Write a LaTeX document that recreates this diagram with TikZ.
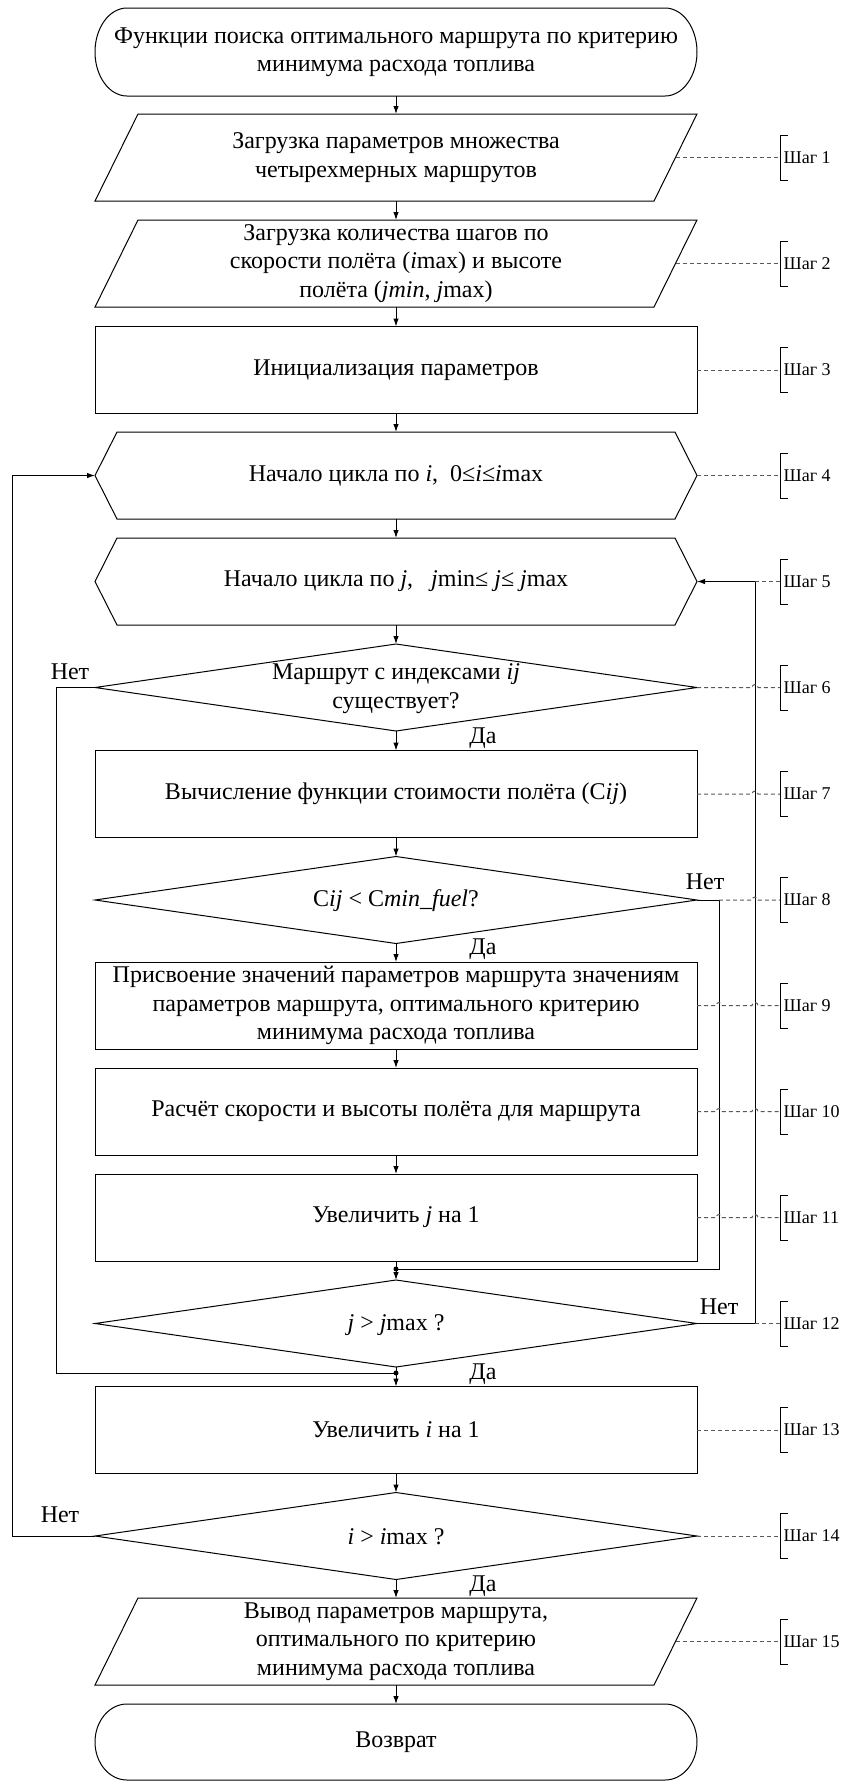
\documentclass[tikz,border=0pt]{standalone}
\usepackage{fontspec}
\setmainfont{Liberation Serif}
\usetikzlibrary{shapes.geometric,arrows.meta,calc}

\tikzset{
  ghost/.style={minimum width=602pt, minimum height=87pt, inner sep=0pt, outer sep=0pt},
  box/.style={ghost, draw, line width=1pt},
  dia/.style={diamond, draw, line width=1pt, minimum width=602pt, minimum height=87pt, inner sep=0pt, outer sep=0pt},
  outline/.style={draw, line width=1pt, line join=miter},
  txt/.style={align=center, font=\fontsize{24}{28.5}\selectfont, inner sep=0pt},
  flow/.style={-{Latex[length=8pt,width=5.5pt]}, line width=1pt},
  link/.style={line width=1pt},
  stepline/.style={draw=black!65, line width=1pt, dash pattern=on 4pt off 3pt},
  steplbl/.style={anchor=west, font=\fontsize{18}{20}\selectfont, inner sep=0pt},
  yesno/.style={font=\fontsize{24}{26}\selectfont, inner sep=0pt},
  junction/.style={circle, fill, inner sep=0pt, minimum size=5pt},
  pics/steptag/.style={code={
    \draw[line width=1pt] (8,22.5) -- (0,22.5) -- (0,-22.5) -- (8,-22.5);
    \node[steplbl] (-lbl) at (3.5,0) {#1};
  }},
}

\begin{document}
\begin{tikzpicture}[x=1pt,y=1pt]
\useasboundingbox (0,0) rectangle (847,-1789);

% guide columns for the loop lines and the step tags
\coordinate (lft)  at (12,0);
\coordinate (lft2) at (56,0);
\coordinate (rt1)  at (719,0);
\coordinate (rt2)  at (755,0);
\coordinate (brk)  at (780,0);

% ---- blocks ----
\node[ghost, txt, minimum height=88pt] (t1) at (396,-52)
  {Функции поиска оптимального маршрута по критерию\\минимума расхода топлива};
\draw[outline] ([xshift=32pt]t1.north west) -- ([xshift=-32pt]t1.north east)
  arc[start angle=90, end angle=-90, x radius=32, y radius=44]
  -- ([xshift=32pt]t1.south west)
  arc[start angle=270, end angle=90, x radius=32, y radius=44] -- cycle;

\node[ghost, txt] (p1) at (396,-157.5)
  {Загрузка параметров множества\\четырехмерных маршрутов};
\draw[outline] ([xshift=43pt]p1.north west) -- (p1.north east)
  -- ([xshift=-43pt]p1.south east) -- (p1.south west) -- cycle;

\node[ghost, txt] (p2) at (396,-263.5)
  {Загрузка количества шагов по\\скорости полёта (\textit{i}max) и высоте\\полёта (\textit{jmin}, \textit{j}max)};
\draw[outline] ([xshift=43pt]p2.north west) -- (p2.north east)
  -- ([xshift=-43pt]p2.south east) -- (p2.south west) -- cycle;

\node[box, txt] (r3) at (396,-370) {Инициализация параметров};

\node[ghost, txt] (h4) at (396,-475.5)
  {Начало цикла по \textit{i},\ \ 0≤\textit{i}≤\textit{i}max};
\draw[outline] (h4.west) -- ([xshift=22pt]h4.north west) -- ([xshift=-22pt]h4.north east)
  -- (h4.east) -- ([xshift=-22pt]h4.south east) -- ([xshift=22pt]h4.south west) -- cycle;

\node[ghost, txt] (h5) at (396,-581.5)
  {Начало цикла по \textit{j},\ \ \ \textit{j}min≤ \textit{j}≤ \textit{j}max};
\draw[outline] (h5.west) -- ([xshift=22pt]h5.north west) -- ([xshift=-22pt]h5.north east)
  -- (h5.east) -- ([xshift=-22pt]h5.south east) -- ([xshift=22pt]h5.south west) -- cycle;

\node[dia] (d6) at (396,-687.5) {};
\node[txt] (d6t) at (396,-688.5) {Маршрут с индексами \textit{ij}\\существует?};

\node[box, txt] (r7) at (396,-794) {Вычисление функции стоимости полёта (C\textit{ij})};

\node[dia] (d8) at (396,-900) {};
\node[txt] (d8t) at (396,-901) {C\textit{ij} < C\textit{min\_fuel}?};

\node[box, txt] (r9) at (396,-1005.5)
  {Присвоение значений параметров маршрута значениям\\параметров маршрута, оптимального критерию\\минимума расхода топлива};

\node[box, txt] (r10) at (396,-1111.5) {Расчёт скорости и высоты полёта для маршрута};

\node[box, txt] (r11) at (396,-1217.5) {Увеличить \textit{j} на 1};

\node[junction] (j1) at (396,-1269) {};

\node[dia] (d12) at (396,-1323.5) {};
\node[txt] (d12t) at (396,-1325) {\textit{j} > \textit{j}max ?};

\node[junction] (j2) at (396,-1373) {};

\node[box, txt] (r13) at (396,-1430) {Увеличить \textit{i} на 1};

\node[dia] (d14) at (396,-1536) {};
\node[txt] (d14t) at (396,-1537) {\textit{i} > \textit{i}max ?};

\node[ghost, txt] (p15) at (396,-1641.5)
  {Вывод параметров маршрута,\\оптимального по критерию\\минимума расхода топлива};
\draw[outline] ([xshift=43pt]p15.north west) -- (p15.north east)
  -- ([xshift=-43pt]p15.south east) -- (p15.south west) -- cycle;

\node[ghost, txt, minimum height=76pt] (t16) at (396,-1742) {Возврат};
\draw[outline] ([xshift=32pt]t16.north west) -- ([xshift=-32pt]t16.north east)
  arc[start angle=90, end angle=-90, x radius=32, y radius=38]
  -- ([xshift=32pt]t16.south west)
  arc[start angle=270, end angle=90, x radius=32, y radius=38] -- cycle;

% ---- main flow ----
\draw[flow] (t1.south) -- (p1.north);
\draw[flow] (p1.south) -- (p2.north);
\draw[flow] (p2.south) -- (r3.north);
\draw[flow] (r3.south) -- (h4.north);
\draw[flow] (h4.south) -- (h5.north);
\draw[flow] (h5.south) -- (d6.north);
\draw[flow] (d6.south) -- (r7.north);
\draw[flow] (r7.south) -- (d8.north);
\draw[flow] (d8.south) -- (r9.north);
\draw[flow] (r9.south) -- (r10.north);
\draw[flow] (r10.south) -- (r11.north);
\draw[link] (r11.south) -- (j1.center);
\draw[flow] (j1.center) -- (d12.north);
\draw[link] (d12.south) -- (j2.center);
\draw[flow] (j2.center) -- (r13.north);
\draw[flow] (r13.south) -- (d14.north);
\draw[flow] (d14.south) -- (p15.north);
\draw[flow] (p15.south) -- (t16.north);

% ---- loop returns ----
\draw[flow] (d14.west) -- (d14.west -| lft) -- (h4.west -| lft) -- (h4.west);
\draw[link] (d6.west) -- (d6.west -| lft2) -- (j2 -| lft2) -- (j2.center);
\draw[link] (d8.east) -- (d8.east -| rt1) -- (j1 -| rt1) -- (j1.center);
\draw[flow] (d12.east) -- (d12.east -| rt2) -- (h5.east -| rt2) -- (h5.east);

% ---- branch labels ----
\node[yesno] (n6)  at (70,-672)   {Нет};
\node[yesno] (n8)  at (705,-882)  {Нет};
\node[yesno] (n12) at (719,-1307) {Нет};
\node[yesno] (n14) at (60,-1515)  {Нет};
\node[yesno] (y6)  at (483,-738)  {Да};
\node[yesno] (y8)  at (483,-949)  {Да};
\node[yesno] (y12) at (483,-1374) {Да};
\node[yesno] (y14) at (483,-1586) {Да};

% ---- step tags ----
\draw[stepline] ([xshift=-21.5pt]p1.east) -- (p1.east -| brk);
\draw[stepline] ([xshift=-21.5pt]p2.east) -- (p2.east -| brk);
\draw[stepline] (r3.east) -- (r3.east -| brk);
\draw[stepline] (h4.east) -- (h4.east -| brk);
\draw[stepline] (h5.east -| rt2) -- (h5.east -| brk);
\draw[stepline] (d6.east) -- ([xshift=-3pt]d6.east -| rt2)
  arc[start angle=180, end angle=0, radius=3] -- (d6.east -| brk);
\draw[stepline] (r7.east) -- ([xshift=-3pt]r7.east -| rt2)
  arc[start angle=180, end angle=0, radius=3] -- (r7.east -| brk);
\draw[stepline] (d8.east -| rt1) -- ([xshift=-3pt]d8.east -| rt2)
  arc[start angle=180, end angle=0, radius=3] -- (d8.east -| brk);
\foreach \n in {r9,r10,r11}{
  \draw[stepline] (\n.east) -- ([xshift=-3pt]\n.east -| rt1)
    arc[start angle=180, end angle=0, radius=3] -- ([xshift=-3pt]\n.east -| rt2)
    arc[start angle=180, end angle=0, radius=3] -- (\n.east -| brk);
}
\draw[stepline] (d12.east -| rt2) -- (d12.east -| brk);
\draw[stepline] (r13.east) -- (r13.east -| brk);
\draw[stepline] (d14.east) -- (d14.east -| brk);
\draw[stepline] ([xshift=-21.5pt]p15.east) -- (p15.east -| brk);

\pic (s1)  at (p1.east -| brk)  {steptag=Шаг 1};
\pic (s2)  at (p2.east -| brk)  {steptag=Шаг 2};
\pic (s3)  at (r3.east -| brk)  {steptag=Шаг 3};
\pic (s4)  at (h4.east -| brk)  {steptag=Шаг 4};
\pic (s5)  at (h5.east -| brk)  {steptag=Шаг 5};
\pic (s6)  at (d6.east -| brk)  {steptag=Шаг 6};
\pic (s7)  at (r7.east -| brk)  {steptag=Шаг 7};
\pic (s8)  at (d8.east -| brk)  {steptag=Шаг 8};
\pic (s9)  at (r9.east -| brk)  {steptag=Шаг 9};
\pic (s10) at (r10.east -| brk) {steptag=Шаг 10};
\pic (s11) at (r11.east -| brk) {steptag=Шаг 11};
\pic (s12) at (d12.east -| brk) {steptag=Шаг 12};
\pic (s13) at (r13.east -| brk) {steptag=Шаг 13};
\pic (s14) at (d14.east -| brk) {steptag=Шаг 14};
\pic (s15) at (p15.east -| brk) {steptag=Шаг 15};
\end{tikzpicture}
\end{document}
